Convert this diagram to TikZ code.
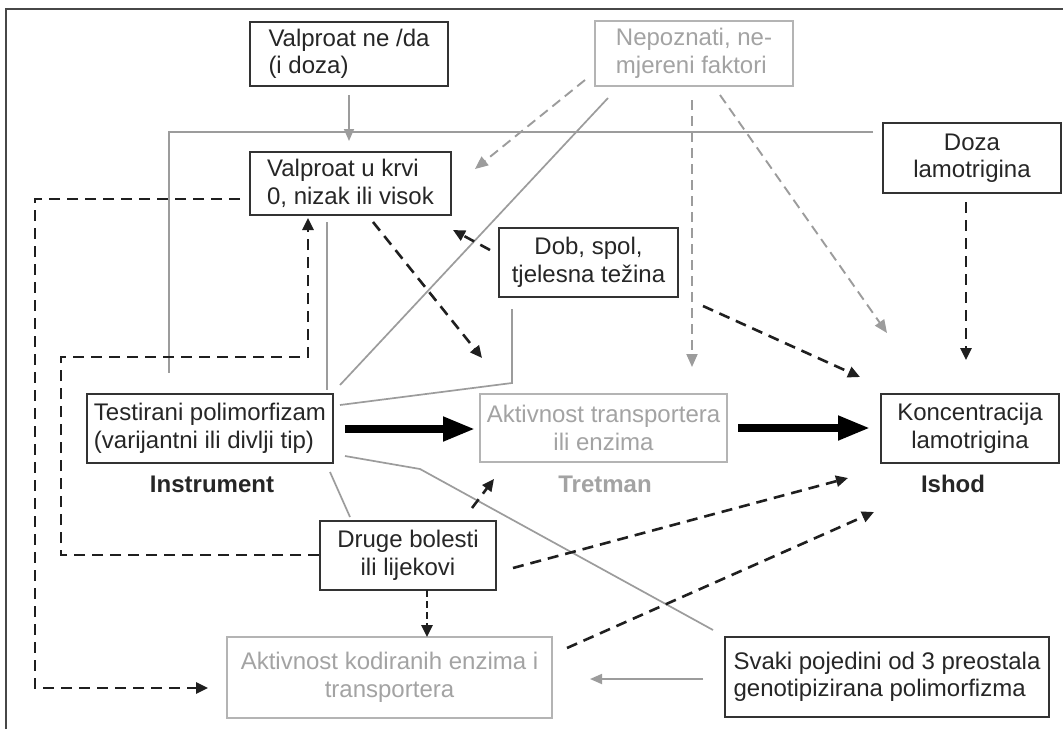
\documentclass[tikz,border=0pt]{standalone}
\usepackage{fontspec}
\setmainfont{Liberation Sans}
\usetikzlibrary{arrows.meta}
\definecolor{dk}{HTML}{333333}
\definecolor{txt}{HTML}{262626}
\definecolor{lt}{HTML}{B4B4B4}
\definecolor{lttxt}{HTML}{A3A3A3}
\definecolor{gl}{HTML}{9C9C9C}
\begin{document}
\begin{tikzpicture}[x=1pt,y=-1pt,
  font=\fontsize{24}{27.5}\selectfont,
  bx/.style 2 args={minimum width=#1pt,minimum height=#2pt,inner sep=0pt},
  dbox/.style={draw=dk,line width=2.2pt,text=txt},
  lbox/.style={draw=lt,line width=1.6pt,text=lttxt},
  lab/.style={font=\fontsize{24}{27.5}\selectfont\bfseries,inner sep=0pt},
  gline/.style={draw=gl,line width=1.7pt},
  garrow/.style={gline,-{Triangle[length=12pt,width=10pt]}},
  gdash/.style={draw=gl,line width=1.9pt,dash pattern=on 10pt off 6pt,-{Triangle[length=13pt,width=11pt]}},
  bdash/.style={draw=black!88,line width=2.6pt,dash pattern=on 11pt off 7pt},
  bdarrow/.style={bdash,-{Triangle[length=12pt,width=11pt]}},
  bigarrow/.style={draw=black,line width=7.5pt,-{Triangle[length=32pt,width=23pt]}}
]
\useasboundingbox (0,0) rectangle (1063,729);
\fill[white] (0,0) rectangle (1063,729);
% frame
\draw[draw=dk!90,line width=2.2pt] (6,729) -- (6,9) -- (1063,9);

% boxes
\node[dbox,bx={198}{64},align=left] (A) at (349,54) {Valproat ne /da\\(i doza)};
\node[dbox,bx={201}{63},align=left] (B) at (350.5,183.5) {Valproat u krvi\\0, nizak ili visok};
\node[lbox,bx={198}{65},align=left] (C) at (694,53.5) {Nepoznati, ne-\\mjereni faktori};
\node[dbox,bx={178}{70},align=center] (D) at (972,158) {Doza\\lamotrigina};
\node[dbox,bx={179}{69},align=center] (E) at (588.5,262.5) {Dob, spol,\\tjelesna težina};
\node[dbox,bx={246}{69},align=left] (F) at (210,428.5) {Testirani polimorfizam\\(varijantni ili divlji tip)};
\node[lbox,bx={247}{68},align=center] (G) at (603.5,428) {Aktivnost transportera\\ili enzima};
\node[dbox,bx={178}{69},align=center] (H) at (970,428.5) {Koncentracija\\lamotrigina};
\node[dbox,bx={176}{69},align=center] (I) at (408,555.5) {Druge bolesti\\ili lijekovi};
\node[lbox,bx={325}{81},align=center] (J) at (389.5,677.5) {Aktivnost kodiranih enzima i\\transportera};
\node[dbox,bx={324}{80},align=left] (K) at (887,677) {Svaki pojedini od 3 preostala\\genotipizirana polimorfizma};

% labels
\node[lab,text=txt] (linst) at (212,484) {Instrument};
\node[lab,text=lttxt] (ltret) at (605,484) {Tretman};
\node[lab,text=txt] (lish) at (953,484) {Ishod};

% coordinates
\coordinate (a1) at (349,95);
\coordinate (b1) at (349,141);
\coordinate (d1) at (873,132);
\coordinate (h1) at (169,132);
\coordinate (h2) at (169,373);
\coordinate (v1) at (327,222);
\coordinate (v2) at (327,390);
\coordinate (c1) at (608,98);
\coordinate (f1) at (340,385);
\coordinate (c2) at (585,80);
\coordinate (b2) at (475,169);
\coordinate (c3) at (692,100);
\coordinate (g1) at (692,367);
\coordinate (c4) at (720,95);
\coordinate (h3) at (887,333);
\coordinate (d2) at (966,202);
\coordinate (h4) at (966,360);
\coordinate (e1) at (703,306);
\coordinate (h5) at (860,377);
\coordinate (e2) at (490,250);
\coordinate (b3) at (453,230);
\coordinate (b4) at (373,222);
\coordinate (g2) at (482,358);
\coordinate (e3) at (512,309);
\coordinate (e4) at (512,383);
\coordinate (f2) at (340,405);
\coordinate (f3) at (345,429);
\coordinate (g3) at (475,429);
\coordinate (g4) at (738,428);
\coordinate (h6) at (870,428);
\coordinate (f4) at (345,456);
\coordinate (m1) at (420,469);
\coordinate (k1) at (713,630);
\coordinate (f5) at (330,472);
\coordinate (i1) at (350,517);
\coordinate (i2) at (472,508);
\coordinate (g5) at (494,479);
\coordinate (i3) at (513,568);
\coordinate (h7) at (848,478);
\coordinate (j1) at (567,648);
\coordinate (h8) at (874,512);
\coordinate (i4) at (427,590);
\coordinate (j2) at (427,637);
\coordinate (k2) at (703,679);
\coordinate (j3) at (590,679);
\coordinate (b5) at (240,199);
\coordinate (o1) at (35,199);
\coordinate (o2) at (35,688);
\coordinate (j4) at (208,688);
\coordinate (i5) at (319,555);
\coordinate (n1) at (61,555);
\coordinate (n2) at (61,357);
\coordinate (n3) at (308,357);
\coordinate (b6) at (308,218);

% gray solid connectors
\draw[garrow] (a1) -- (b1);
\draw[gline] (d1) -- (h1) -- (h2);
\draw[gline] (v1) -- (v2);
\draw[gline] (c1) -- (f1);
\draw[gline] (e3) -- (e4) -- (f2);
\draw[gline] (f4) -- (m1) -- (k1);
\draw[gline] (f5) -- (i1);
\draw[garrow] (k2) -- (j3);

% gray dashed
\draw[gdash] (c2) -- (b2);
\draw[gdash] (c3) -- (g1);
\draw[gdash] (c4) -- (h3);

% black dashed
\draw[bdarrow] (d2) -- (h4);
\draw[bdarrow] (e1) -- (h5);
\draw[bdarrow] (e2) -- (b3);
\draw[bdarrow] (b4) -- (g2);
\draw[bdarrow] (i2) -- (g5);
\draw[bdarrow] (i3) -- (h7);
\draw[bdarrow] (j1) -- (h8);
\draw[bdarrow,dash pattern=on 7pt off 4pt] (i4) -- (j2);
\draw[bdarrow] (b5) -- (o1) -- (o2) -- (j4);
\draw[bdarrow] (i5) -- (n1) -- (n2) -- (n3) -- (b6);

% thick arrows
\draw[bigarrow] (f3) -- (g3);
\draw[bigarrow] (g4) -- (h6);
\end{tikzpicture}
\end{document}
